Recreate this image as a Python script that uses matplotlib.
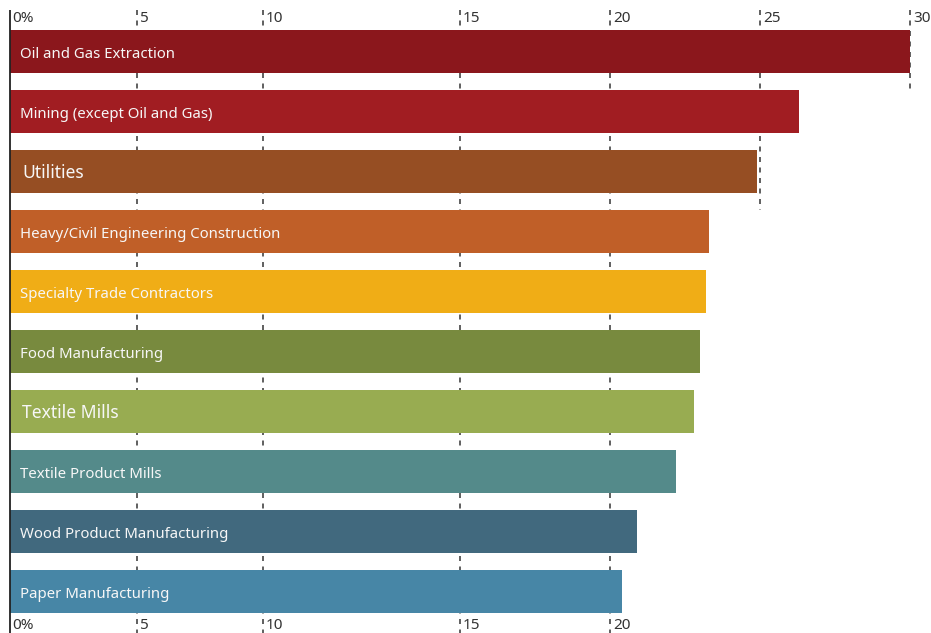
import matplotlib
matplotlib.use("Agg")
import matplotlib.pyplot as plt
from matplotlib.transforms import offset_copy

# ---- data ----
categories = [
    "Oil and Gas Extraction",
    "Mining (except Oil and Gas)",
    "Utilities",
    "Heavy/Civil Engineering Construction",
    "Specialty Trade Contractors",
    "Food Manufacturing",
    "Textile Mills",
    "Textile Product Mills",
    "Wood Product Manufacturing",
    "Paper Manufacturing",
]
values = [30.0, 26.3, 24.9, 23.3, 23.2, 23.0, 22.8, 22.2, 20.9, 20.4]
colors = ["#8B171C", "#A11D22", "#964E23", "#C05F28", "#F0AD16",
          "#788A3E", "#98AC51", "#548A8A", "#41697E", "#4786A6"]
# labels drawn slightly larger in the reference
big_label = ["Utilities", "Textile Mills"]

tick_pos = [0, 4.23, 8.43, 15, 20, 25, 30]
tick_labels = ["0%", "5", "10", "15", "20", "25", "30"]

# ---- layout (pixels) ----
W, H, DPI = 931, 633, 100
x0_px, px_per_unit = 10, 30.0
first_center_px, pitch_px, bar_px = 51.7, 60.0, 43.5
line_top_px = 10

plt.rcParams['font.family'] = ['Noto Sans', 'DejaVu Sans']

fig = plt.figure(figsize=(W / DPI, H / DPI), dpi=DPI)
ax = fig.add_axes([0, 0, 1, 1])
ax.set_axis_off()

ax.set_xlim(-x0_px / px_per_unit, (W - x0_px) / px_per_unit)
ax.set_ylim((H - first_center_px) / pitch_px, -first_center_px / pitch_px)

y = list(range(len(categories)))
bh = bar_px / pitch_px
ax.barh(y, values, height=bh, color=colors, zorder=2)

y_top = (line_top_px - first_center_px) / pitch_px
y_bot = (H - first_center_px) / pitch_px

# left solid line
ax.vlines(0, y_top, y_bot, color="#222222", lw=1.3, zorder=3)

# dashed gridlines: extend down to the last bar reaching the tick
for t, lab in zip(tick_pos, tick_labels):
    reach = [i for i, v in enumerate(values) if v >= t - 0.5]
    last = max(reach) if reach else -1
    if last == len(values) - 1:
        end = y_bot
    else:
        end = last + 1 - bh / 2
    if t > 0:
        ax.vlines(t, y_top, end, color="#444444", lw=1.2,
                  linestyles=(0, (3.0, 3.3)), zorder=1)
    tr = offset_copy(ax.transData, fig=fig, x=(2 if t == 0 else 3), y=0, units='dots')
    ax.text(t, (19 - first_center_px) / pitch_px, lab, transform=tr,
            ha="left", va="center", fontsize=11, color="#333333")
    if last == len(values) - 1:
        ax.text(t, (625.5 - first_center_px) / pitch_px, lab, transform=tr,
                ha="left", va="center", fontsize=11, color="#333333")

# bar labels
for i, (c, v) in enumerate(zip(categories, values)):
    big = c in big_label
    tr = offset_copy(ax.transData, fig=fig, x=(12 if big else 10),
                     y=(-6.5 if big else -6), units='dots')
    ax.text(0, i, c, transform=tr, ha="left", va="baseline",
            fontsize=(12.6 if big else 10.75), color="#F7F7F7", zorder=4)

fig.savefig("out.png", dpi=DPI)
